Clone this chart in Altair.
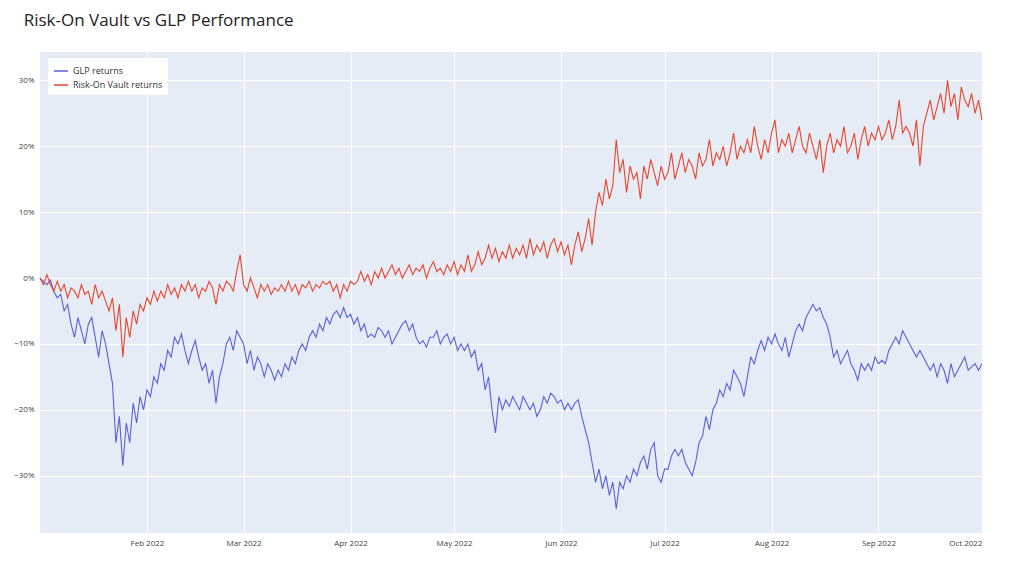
import altair as alt
import pandas as pd

glp = [0,-0.5,-1,-0.3,-2,-3,-2.5,-5,-4,-7,-9,-6,-8,-10,-7,-6,-9,-12,-8,-10,-13,-16,-25,-21,-28.5,-22,-25,-19,-22,-18,
-20,-17,-18,-15,-16,-13,-14,-11,-12,-9,-10,-8.5,-11,-13,-11,-9.5,-12,-14,-13,-16,-14,-19,-15,-13,-10,-9,-11,-8,-9,-10,
-13,-11,-14,-12,-13,-15,-13,-14,-15.5,-14,-15,-13,-14,-12,-13,-11,-10,-11,-9,-8,-9,-7,-8,-6,-7,-5.5,-5,-6,-4.5,-6,
-5.5,-7,-6,-8,-7,-9,-8.5,-9,-7.5,-8,-9,-8,-10,-9,-8,-7,-6.5,-8,-7,-9,-10,-9.5,-10.5,-9,-9,-8,-10,-9,-8.5,-10,-9,-11,-10,-11,-10,
-12,-11,-14,-13,-17,-15,-20,-23.5,-18,-20,-18.5,-19.5,-18,-19,-20,-18,-19,-20,-19,-21,-20,-18,-19,-17.5,-18,-19,-18.5,-20,-19,-20,-19,-18.5,
-21,-23,-25,-28,-31,-29,-32,-30,-33,-31,-35,-31,-32,-30,-31,-29,-30,-28,-27,-29,-26,-25,-30,-31,-29,-29,
-27,-26,-27,-26,-28,-29,-30,-28,-25,-24,-21,-23,-20,-19,-17,-18,-16,-17,-14,-15,-16,-18,-15,-12,-13,-11,-9.5,
-11,-9,-10,-8.5,-10,-11,-9,-12,-10,-8,-7,-8,-6,-5,-4,-5,-4.5,-6,-7,-9,-12,-11,-13,-12,-11,-13,-14,-15.5,-13,-14,
-13,-14,-12,-13,-12.5,-13,-11,-10,-9,-10,-8,-9,-10,-11,-12,-11,-12,-13,-14,-13,-15,-13,-14,-16,-13,-15,-14,-13,-12,-14,
-13.5,-13,-14,-13]

risk = [0,-1,0.5,-1,-2,-0.5,-2,-1,-3,-1.5,-2,-3,-1,-2.5,-2,-4,-1,-3,-2,-3.5,-5,-3,-8,-4,-12,-6,-9,-5,-7,-4,
-5,-3,-4,-2,-3.5,-2,-3,-1,-2.5,-1.5,-3,-1,-2,-0.5,-2,-1,-3,-1.5,-2,-0.5,-1.5,-4,-1,-2,-0.5,-1,-2,1,3.5,-1,
-2,0,-1.5,-3,-1,-2,-1,-2.5,-1.5,-2,-1,-2,-0.5,-2,-1,-2.5,-1,-1.5,-0.5,-2,-1,-1.5,-0.5,-1,-0.5,-2,-1,-3,-1,-2,
-0.5,-1,-0.5,1,-0.5,0.5,-1,1,0,1.5,0,1,2,0.5,1.5,0,1,2,0.5,1.5,1,2,0,1.5,2.5,1,1.5,0.5,2,1,
2.5,0.5,2,1,3.5,1,2,4,2,3,5,3,4.5,2.5,4,3,5,3,4.5,3.5,5,3,6,3.5,5,4,5.5,3,5,6,
4,5.5,3.5,5,2,5,7,4,6,9,5,10,13,11,15,12,14,21,16,18,13,17,15,16,12,17,15,18,16,14,17,15,16,19,
15,17,19,16,18,17,15,19,17,18,21,17,19,18,20,17,19,22,18,20,19,21,19,23,20,18,
21,19,22,24,19,21,20,22,19,21,23,20,19,22,20,18,21,16,20,22,19,21,20,23,19,20,22,18,21,23,
20,22,21,23,21,22,24,21,23,27,22,23,22,20,24,17,23,25,27,24,26,28,25,30,26,28,24,29,27,26,
28,25,27,24]

n = min(len(glp), len(risk))
dates = pd.date_range("2022-01-01", periods=n, freq="D")
df = pd.concat([
    pd.DataFrame({"date": dates, "value": [v / 100 for v in glp[:n]], "series": "GLP returns"}),
    pd.DataFrame({"date": dates, "value": [v / 100 for v in risk[:n]], "series": "Risk-On Vault returns"}),
])

x_ticks = [{"year": 2022, "month": m, "date": 1} for m in range(2, 11)]

chart = alt.Chart(df).mark_line(strokeWidth=1.1).encode(
    x=alt.X("date:T", title=None,
            scale=alt.Scale(domain=[{"year": 2022, "month": 1, "date": 1}, {"year": 2022, "month": 10, "date": 1}]),
            axis=alt.Axis(values=x_ticks, format="%b %Y", labelFontSize=8, labelColor="#444",
                          domain=False, ticks=False, gridColor="white", labelPadding=6)),
    y=alt.Y("value:Q", title=None, scale=alt.Scale(domain=[-0.387, 0.343], nice=False),
            axis=alt.Axis(values=[-0.3, -0.2, -0.1, 0, 0.1, 0.2, 0.3], format=".0%", labelFontSize=8,
                          labelColor="#444", domain=False, ticks=False, gridColor="white", labelPadding=6)),
    color=alt.Color("series:N", scale=alt.Scale(domain=["GLP returns", "Risk-On Vault returns"],
                                                range=["#5a60d8", "#e8452c"]),
                    legend=alt.Legend(title=None, orient="none", legendX=8, legendY=6, symbolType="stroke",
                                      symbolSize=200, labelFontSize=9, labelColor="#333",
                                      fillColor="white", padding=5, rowPadding=1)),
).properties(
    width=942, height=481,
    title=alt.TitleParams("Risk-On Vault vs GLP Performance", anchor="start", fontSize=17,
                          font="Open Sans", fontWeight="normal", color="#222", dx=10, offset=22),
    autosize=alt.AutoSizeParams(type="none"),
    padding={"left": 32, "top": 44, "right": 34, "bottom": 35},
).configure(font="Open Sans").configure_view(fill="#E5ECF6", strokeWidth=0)

chart.save("out.html", embed_options={"renderer": "svg", "actions": False})
